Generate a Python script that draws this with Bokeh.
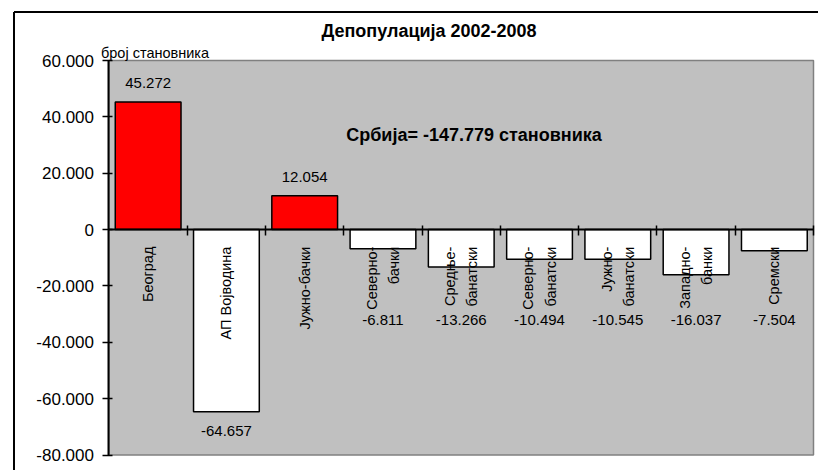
from math import pi
import numpy as np
from bokeh.plotting import figure
from bokeh.models import ColumnDataSource, Range1d, LinearAxis, FixedTicker
from bokeh.core.properties import value
from bokeh.embed import file_html
from bokeh.resources import INLINE

# ---- data ----
categories = ["Београд", "АП Војводина", "Јужно-бачки", "Северно-\nбачки", "Средње-\nбанатски",
              "Северно-\nбанатски", "Јужно-\nбанатски", "Западно-\nбанки", "Сремски"]
values = [45272, -64657, 12054, -6811, -13266, -10494, -10545, -16037, -7504]
y_ticks = [-80000, -60000, -40000, -20000, 0, 20000, 40000, 60000]
y_tick_labels = ["-80.000", "-60.000", "-40.000", "-20.000", "0", "20.000", "40.000", "60.000"]
title_text = "Депопулација 2002-2008"
total_text = "Србија= -147.779 становника"
unit_text = "број становника"

FONT = "Liberation Sans"

n = len(categories)
xs = np.arange(n)
vals = np.array(values, dtype=float)
colors = ["#FF0000" if v > 0 else "#FFFFFF" for v in values]
labels = [f"{v:,}".replace(",", ".") for v in values]
label_y = np.where(vals > 0, vals, np.minimum(vals, -25500))
label_off = np.where(vals > 0, -19, 19)

src = ColumnDataSource(dict(x=xs, v=vals, color=colors, cat=categories,
                            label=labels, ly=label_y, loff=label_off))

X0, X1 = -1.7583, 8.5639
Y0, Y1 = -85489, 78463
p = figure(width=818, height=470,
           x_range=Range1d(X0, X1), y_range=Range1d(Y0, Y1),
           x_axis_type=None, y_axis_type=None,
           output_backend="svg", toolbar_location=None,
           min_border_left=10, min_border_top=8, min_border_right=0, min_border_bottom=0,
           background_fill_color="white", border_fill_color="white")
p.outline_line_color = None

# outer chart border (left and top edges; the rest lies outside the picture)
BX, BY = -1.7136, 77221
p.segment(x0=[BX, BX], y0=[Y0, BY], x1=[BX, X1 + 1], y1=[BY, BY],
          line_color="black", line_width=2)

# grey plot area
p.quad(left=-0.5, right=n - 0.5, bottom=y_ticks[0], top=y_ticks[-1],
       fill_color="#C0C0C0", line_color="#808080", line_width=1.5)

# bars
p.vbar(x="x", top="v", bottom=0, width=0.84, source=src,
       fill_color="color", line_color="black", line_width=1.5)

# category labels (rotated)
p.text(x="x", y=0, text="cat", source=src, angle=pi / 2, y_offset=17,
       text_align="right", text_baseline="middle", text_line_height=1.4,
       text_font=value(FONT), text_font_size="14.5px", text_color="black")

# value labels
p.text(x="x", y="ly", text="label", source=src, y_offset="loff",
       text_align="center", text_baseline="middle",
       text_font=value(FONT), text_font_size="15px", text_color="black")

# y axis
yax = LinearAxis(fixed_location=-0.5, ticker=FixedTicker(ticks=y_ticks),
                 major_label_overrides=dict(zip(y_ticks, y_tick_labels)),
                 bounds=(y_ticks[0], y_ticks[-1]),
                 axis_line_width=2, axis_line_color="black",
                 major_tick_in=4, major_tick_out=6, major_tick_line_width=1.5,
                 minor_tick_line_color=None, major_label_standoff=9,
                 major_label_text_font=FONT, major_label_text_font_size="17px",
                 major_label_text_color="black")
p.add_layout(yax, "left")

# x axis (zero line with ticks between categories)
x_ticks = [i + 0.5 for i in range(n)]
xax = LinearAxis(fixed_location=0, ticker=FixedTicker(ticks=x_ticks),
                 major_label_overrides={t: "" for t in x_ticks},
                 bounds=(-0.5, n - 0.5),
                 axis_line_width=2, axis_line_color="black",
                 major_tick_in=4, major_tick_out=6, major_tick_line_width=1.5,
                 minor_tick_line_color=None, major_label_text_font_size="1px")
p.add_layout(xax, "below")

# texts
p.text(x=[3.588], y=[70655], text=[title_text], text_align="center", text_baseline="middle",
       text_font=value(FONT), text_font_size="18px", text_font_style="bold", text_color="black")
p.text(x=[4.163], y=[33394], text=[total_text], text_align="center", text_baseline="middle",
       text_font=value(FONT), text_font_size="18px", text_font_style="bold", text_color="black")
p.text(x=[-0.5], y=[y_ticks[-1]], text=[unit_text], x_offset=-8, y_offset=-8,
       text_align="left", text_baseline="middle",
       text_font=value(FONT), text_font_size="14.5px", text_color="black")

open("out.html", "w").write(file_html(p, INLINE))
